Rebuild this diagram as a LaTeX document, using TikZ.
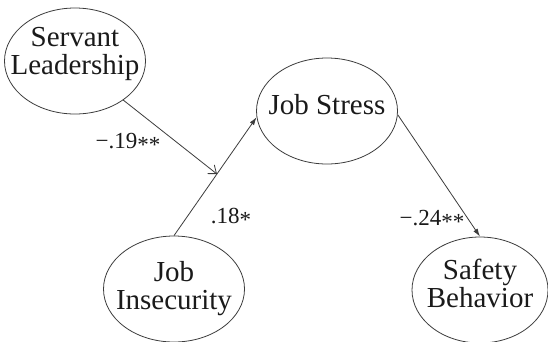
\documentclass[tikz,border=0pt]{standalone}
\usepackage{fontspec}
\setmainfont{Liberation Serif}
\usetikzlibrary{arrows.meta,shapes.geometric}
\definecolor{Ink}{HTML}{1A1A1A}
\definecolor{EdgeGrey}{HTML}{3C3C3C}
\newcommand\sigstar{\raisebox{-4.5pt}{*}}

\begin{document}
\begin{tikzpicture}[x=1pt,y=-1pt,>={Latex[length=8pt,width=5pt]},every node/.style={text=Ink},
latent/.style={ellipse,draw=EdgeGrey,line width=.8pt,minimum width=141pt,minimum height=106pt,inner xsep=-30pt,inner ysep=-20pt,align=center,font=\fontsize{29}{28}\selectfont},
coef/.style={font=\fontsize{23}{23}\selectfont},link/.style={draw=EdgeGrey,line width=.8pt}]
\useasboundingbox(0,0)rectangle(548,341);\fill[white](0,0)rectangle(548,341);
\node[latent,text depth=20pt](SL)at(75,61){Servant\\Leadership};\node[latent,text depth=14pt](JS)at(327,111){Job Stress};
\node[latent,text depth=8pt](JI)at(174,289){Job\\Insecurity};\node[latent,text depth=14pt,minimum width=136pt](SB)at(480,290){Safety\\Behavior};
\draw[link,->](JI.north)--coordinate[pos=.52](mod)(JS.185);\draw[link,-{Straight Barb[length=7pt,width=11pt]}](SL.321)--(mod);\draw[link,->](JS.357)--(SB.north);
\node[coef](bSL)at(128,143){−.19\sigstar\sigstar};\node[coef](bJI)at(231,218){.18\sigstar};\node[coef](bJS)at(432,220){−.24\sigstar\sigstar};
\end{tikzpicture}
\end{document}
